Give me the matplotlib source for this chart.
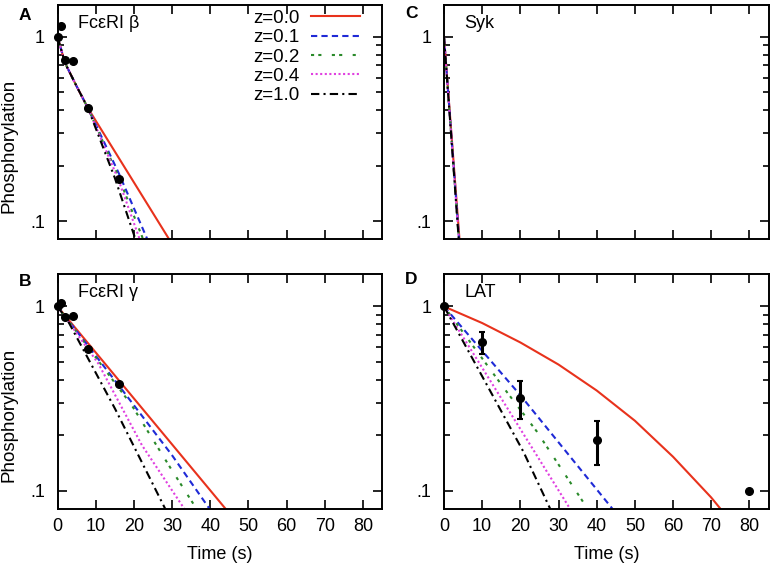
import matplotlib

matplotlib.use("Agg")
import matplotlib.pyplot as plt
from matplotlib.lines import Line2D

plt.rcParams["font.family"] = ["Liberation Sans", "DejaVu Sans"]

# experimental points (time in s, relative phosphorylation)
t_exp = [0, 1, 2, 4, 8, 16]
fceri_beta_exp = [1.0, 1.15, 0.75, 0.74, 0.41, 0.17]
fceri_gamma_exp = [1.0, 1.04, 0.88, 0.89, 0.59, 0.38]

lat_t = [0, 10, 20, 40, 80]
lat_exp = [1.0, 0.64, 0.32, 0.188, 0.1]
lat_err = [0.0, 0.09, 0.075, 0.05, 0.0]

z_labels = ["z=0.0", "z=0.1", "z=0.2", "z=0.4", "z=1.0"]

# model curves, one (t, y) pair of lists per z value
beta_curves = [
    ([0, 2, 5, 8, 29.2], [1, 0.72, 0.54, 0.41, 0.08]),
    ([0, 2, 5, 8, 16, 23.5], [1, 0.72, 0.54, 0.41, 0.183, 0.08]),
    ([0, 2, 5, 8, 16, 22.4], [1, 0.72, 0.54, 0.41, 0.174, 0.08]),
    ([0, 2, 5, 8, 16, 21.5], [1, 0.72, 0.54, 0.41, 0.167, 0.08]),
    ([0, 2, 5, 8, 15, 20.4], [1, 0.72, 0.54, 0.41, 0.172, 0.08]),
]
gamma_curves = [
    ([0, 44.0], [1, 0.08]),
    ([0, 16.8, 30.0, 39.8], [1, 0.356, 0.156, 0.08]),
    ([0, 19.5, 29.6, 36.4], [1, 0.29, 0.133, 0.08]),
    ([0, 10.7, 22.1, 33.2], [1, 0.49, 0.177, 0.08]),
    ([0, 2.8, 15.1, 28.2], [1, 0.83, 0.278, 0.08]),
]
syk_curves = [
    ([0, 4.05], [1, 0.08]),
    ([0, 3.95], [1, 0.08]),
    ([0, 3.9], [1, 0.08]),
    ([0, 3.9], [1, 0.08]),
    ([0, 3.85], [1, 0.08]),
]
lat_curves = [
    ([0, 10, 20, 30, 40, 50, 60, 70, 72.4],
     [1, 0.813, 0.638, 0.484, 0.350, 0.240, 0.153, 0.092, 0.08]),
    ([0, 20, 44.1], [1, 0.33, 0.08]),
    ([0, 16.4, 24.3, 37.6], [1, 0.345, 0.21, 0.08]),
    ([0, 33.0], [1, 0.08]),
    ([0, 20.8, 27.8], [1, 0.163, 0.08]),
]

colors = ["#e8321c", "#1f2ad6", "#2a8a2a", "#e040e0", "#000000"]
dashes = [None, (3, 2), (1.5, 2, 1.5, 5), (1, 1.2), (4, 2, 1, 2)]
LW = 1.5


def draw_curves(ax, curves):
    for (t, y), c, d in zip(curves, colors, dashes):
        line, = ax.plot(t, y, color=c, lw=LW)
        if d is not None:
            line.set_dashes(d)


def style_axes(ax, bottom_labels, left_label):
    ax.set_yscale("log")
    ax.set_xlim(0, 85)
    ax.set_ylim(0.08, 1.5)
    ax.set_xticks(range(0, 81, 10))
    ax.set_yticks([0.1, 1])
    ax.set_yticklabels([".1", "1"])
    ax.set_yticks([0.2, 0.3, 0.4, 0.5, 0.6, 0.7, 0.8, 0.9], minor=True)
    ax.set_xticks([], minor=True)
    ax.tick_params(which="both", direction="in", top=True, right=True,
                   width=1.2, labelsize=13)
    ax.tick_params(which="major", length=6.3)
    ax.tick_params(which="minor", length=4.3)
    ax.tick_params(axis="y", pad=9)
    ax.tick_params(axis="x", pad=7)
    for s in ax.spines.values():
        s.set_linewidth(1.4)
    if bottom_labels:
        ax.set_xlabel("Time (s)", fontsize=13)
        ax.xaxis.set_label_coords(0.5, -0.16)
    else:
        ax.set_xticklabels([])
    if left_label:
        ax.set_ylabel("Phosphorylation", fontsize=13.5)
        ax.yaxis.set_label_coords(-0.122, 0.398)


fig = plt.figure(figsize=(7.74, 5.70), dpi=100)
W, H = 774, 570


def make_ax(left, top, right, bottom):
    return fig.add_axes([left / W, 1 - bottom / H, (right - left) / W, (bottom - top) / H])


axA = make_ax(57.5, 4.5, 382, 239)
axC = make_ax(444, 4.5, 768.5, 239)
axB = make_ax(57.5, 274, 382, 508.7)
axD = make_ax(444, 274, 768.5, 508.7)

draw_curves(axA, beta_curves)
axA.plot(t_exp, fceri_beta_exp, "o", color="black", ms=5.5, clip_on=False, zorder=5)
draw_curves(axB, gamma_curves)
axB.plot(t_exp, fceri_gamma_exp, "o", color="black", ms=5.5, clip_on=False, zorder=5)
draw_curves(axC, syk_curves)
draw_curves(axD, lat_curves)
axD.errorbar(lat_t, lat_exp, yerr=lat_err, fmt="o", color="black", ms=5.5,
             elinewidth=2.2, capsize=2, capthick=1.5, clip_on=False, zorder=5)

style_axes(axA, False, True)
style_axes(axC, False, False)
style_axes(axB, True, True)
style_axes(axD, True, False)

for ax, name in [(axA, "FcεRI β"), (axC, "Syk"), (axB, "FcεRI γ"), (axD, "LAT")]:
    ax.text(0.062, 0.92, name, transform=ax.transAxes, fontsize=13,
            ha="left", va="center")

for x, y, letter in [(25, 15, "A"), (25, 281, "B"), (411, 14, "C"), (411, 279, "D")]:
    fig.text(x / W, 1 - y / H, letter, fontsize=12.5, fontweight="bold",
             ha="center", va="center")

handles = []
for c, d in zip(colors, dashes):
    h = Line2D([], [], color=c, lw=LW)
    if d is not None:
        h.set_dashes(d)
    handles.append(h)
axA.legend(handles, z_labels, loc="upper right", bbox_to_anchor=(0.932, 0.978),
           frameon=False, markerfirst=False, fontsize=13.5, handlelength=2.6,
           handletextpad=0.6, labelspacing=0.12, borderpad=0, borderaxespad=0)

fig.savefig("out.png", dpi=100)
